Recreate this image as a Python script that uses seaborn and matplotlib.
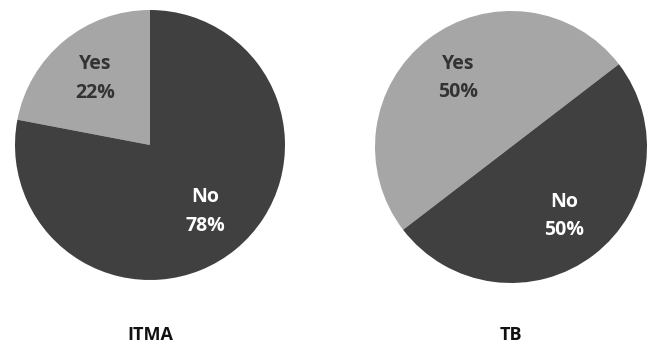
import matplotlib
matplotlib.use("Agg")
import matplotlib.pyplot as plt
import seaborn as sns

categories = ["Yes", "No"]
itma_values = [22, 78]
tb_values = [50, 50]
titles = ["ITMA", "TB"]

sns.set_theme(style="white")
plt.rcParams["font.family"] = ["Open Sans", "DejaVu Sans"]

colors = ["#a6a6a6", "#404040"]
label_colors = ["#333333", "white"]

W, H = 657, 345
fig = plt.figure(figsize=(W / 100, H / 100), dpi=100)
fig.patch.set_facecolor("white")

# pie centres / radii in pixels (x, y from top, r)
specs = [(150, 145, 135, 90), (511, 147, 136, 37.5)]

for values, title, (cx, cy, r, start) in zip([itma_values, tb_values], titles, specs):
    ax = fig.add_axes([(cx - r) / W, (H - cy - r) / H, 2 * r / W, 2 * r / H])
    labs = iter(categories)
    wedges, texts, autotexts = ax.pie(
        values, colors=colors, startangle=start, counterclock=True,
        autopct=lambda p: f"{next(labs)}\n{p:.0f}%", pctdistance=0.64,
        wedgeprops=dict(linewidth=0), textprops=dict(fontsize=14, fontweight="bold"))
    for t, c in zip(autotexts, label_colors):
        t.set_color(c)
        t.set_linespacing(1.55)
    ax.set_xlim(-1, 1)
    ax.set_ylim(-1, 1)
    ax.set_aspect("equal")
    ax.axis("off")
    fig.text(cx / W, 1 - 335 / H, title, ha="center", va="center",
             fontsize=13, fontweight="bold", color="#111111")

plt.savefig("out.png", dpi=100)
